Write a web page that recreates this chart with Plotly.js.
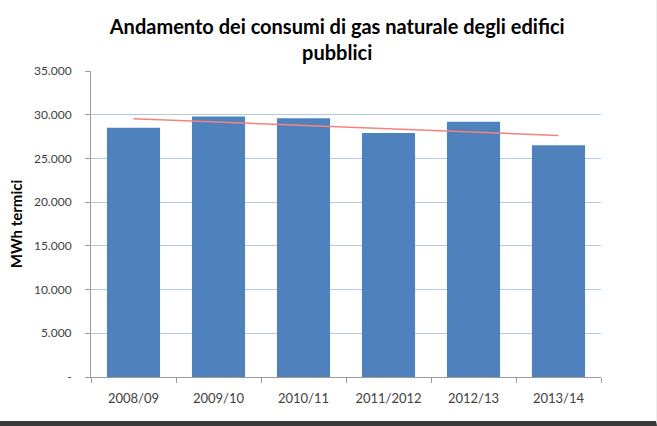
<!DOCTYPE html>
<html>
<head>
<meta charset="utf-8">
<script src="https://cdn.plot.ly/plotly-3.0.1.min.js"></script>
<style>
  html, body { margin: 0; padding: 0; background: #ffffff; }
  #wrap { width: 657px; height: 426px; box-sizing: border-box; border-bottom: 5px solid #3a3a3a; border-right: 1px solid #eeeeee; overflow: hidden; }
  #chart { width: 656px; height: 421px; }
</style>
</head>
<body>
<div id="wrap"><div id="chart"></div></div>
<script>
const categories = ["2008/09", "2009/10", "2010/11", "2011/2012", "2012/13", "2013/14"];
const consumi = [28500, 29800, 29600, 27900, 29200, 26500];
const trendCategories = ["2008/09", "2013/14"];
const trendValues = [29550, 27620];
const yTickVals = [0, 5000, 10000, 15000, 20000, 25000, 30000, 35000];
const yTickText = ["-", "5.000", "10.000", "15.000", "20.000", "25.000", "30.000", "35.000"];

const fontFam = "Lato, 'Open Sans', sans-serif";

const traces = [
  {
    type: "bar",
    x: categories,
    y: consumi,
    marker: { color: "#4f81bd", line: { width: 0 } },
    hoverinfo: "skip",
    showlegend: false
  },
  {
    type: "scatter",
    mode: "lines",
    x: trendCategories,
    y: trendValues,
    line: { color: "#f4837d", width: 1.5 },
    hoverinfo: "skip",
    showlegend: false
  }
];

const layout = {
  width: 656,
  height: 421,
  paper_bgcolor: "#ffffff",
  plot_bgcolor: "#ffffff",
  margin: { l: 91, r: 55, t: 71, b: 44 },
  bargap: 0.375,
  font: { family: fontFam, color: "#404040" },
  title: {
    text: "<b>Andamento dei consumi di gas naturale degli edifici<br>pubblici</b>",
    font: { family: fontFam, size: 20, color: "#000000" },
    x: 0.514,
    xanchor: "center",
    y: 0.92,
    yanchor: "top"
  },
  xaxis: {
    type: "category",
    showgrid: false,
    showline: true,
    linecolor: "#9a9a9a",
    linewidth: 1,
    ticks: "outside",
    tickson: "boundaries",
    ticklen: 5,
    tickcolor: "#9a9a9a",
    ticklabelstandoff: 9,
    tickfont: { family: fontFam, size: 13, color: "#404040" },
    fixedrange: true
  },
  yaxis: {
    range: [0, 35000],
    tickvals: yTickVals,
    ticktext: yTickText,
    showgrid: true,
    gridcolor: "#b3c9e0",
    gridwidth: 1,
    zeroline: false,
    showline: true,
    linecolor: "#9a9a9a",
    linewidth: 1,
    ticks: "outside",
    ticklen: 5,
    tickcolor: "#9a9a9a",
    ticklabelstandoff: 11,
    tickfont: { family: fontFam, size: 12, color: "#404040" },
    title: {
      text: "<b>MWh termici</b>",
      font: { family: fontFam, size: 15, color: "#000000" },
      standoff: 7
    },
    fixedrange: true
  }
};

Plotly.newPlot("chart", traces, layout, { displayModeBar: false, staticPlot: true });
</script>
</body>
</html>
